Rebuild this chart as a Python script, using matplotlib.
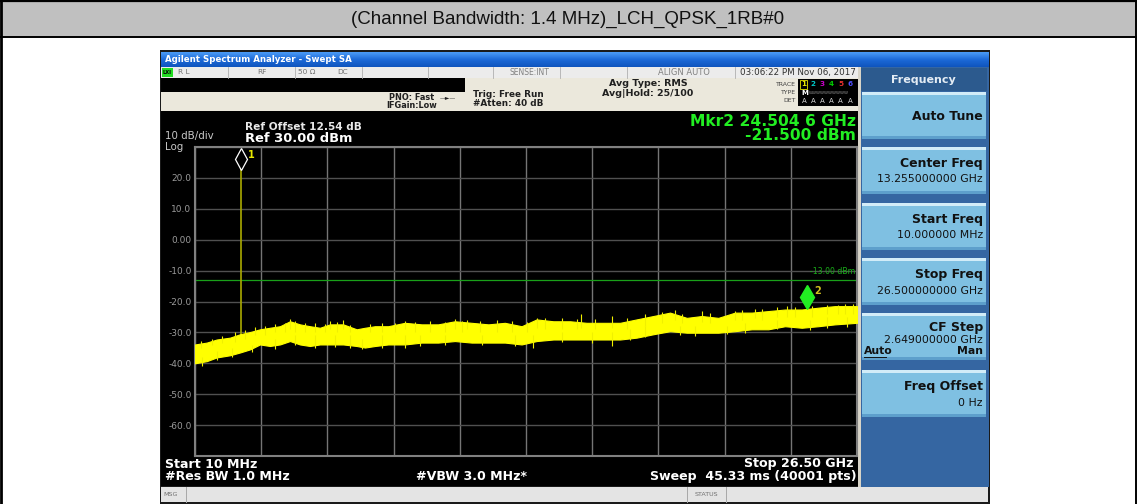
import matplotlib.pyplot as plt
import numpy as np
from matplotlib.patches import Rectangle
from matplotlib.colors import LinearSegmentedColormap
from matplotlib import font_manager, transforms

plt.rcParams['font.family'] = ['DejaVu Sans']

title = "(Channel Bandwidth: 1.4 MHz)_LCH_QPSK_1RB#0"

# noise band of the trace (GHz / dBm)
freq = [0.01, 0.48, 0.88, 1.41, 1.81, 2.21, 2.61, 3.01, 3.41, 3.81, 4.21, 4.61,
        5.01, 5.41, 5.94, 6.48, 6.81, 7.21, 7.74, 8.41, 9.08, 9.74, 10.41, 11.08,
        11.75, 12.41, 13.08, 13.68, 14.35, 15.02, 15.68, 16.35, 17.02, 17.68,
        18.35, 19.02, 19.69, 20.29, 20.95, 21.62, 22.29, 22.95, 23.62, 24.29,
        24.95, 25.62, 26.50]
upper = [-33.9, -33.3, -32.3, -31.7, -30.6, -29.9, -29.0, -28.5, -28.0, -26.4,
         -27.4, -28.0, -28.5, -27.4, -27.4, -29.0, -28.5, -28.0, -28.0, -26.9,
         -27.4, -27.4, -26.4, -26.9, -27.4, -26.9, -28.0, -25.8, -26.4, -26.4,
         -26.9, -26.9, -26.9, -25.8, -24.7, -23.6, -25.3, -24.7, -25.3, -23.6,
         -23.6, -23.1, -22.6, -22.6, -22.0, -21.5, -21.5]
lower = [-40.0, -39.3, -38.1, -37.4, -36.5, -35.5, -33.9, -34.4, -33.9, -32.8,
         -33.9, -34.4, -33.9, -33.9, -33.9, -34.4, -34.9, -34.4, -33.9, -33.9,
         -33.3, -33.3, -32.8, -33.3, -33.3, -33.3, -33.9, -32.8, -32.3, -32.3,
         -32.3, -32.3, -32.3, -31.7, -30.6, -29.6, -30.1, -30.1, -30.1, -29.6,
         -29.0, -29.0, -28.0, -28.5, -28.0, -27.4, -26.9]

# noise spikes sticking out of the band (GHz, from dBm, to dBm)
spike_freq = [3.81, 5.41, 5.94, 8.41, 10.41, 10.88, 13.68, 15.45, 16.68, 19.22,
              20.29, 21.62, 22.42, 23.70, 25.74, 6.68, 8.41, 13.54, 16.68, 21.29,
              0.25, 0.70, 1.10, 1.60, 2.00, 2.40, 2.80, 3.20, 3.60, 4.00, 4.40,
              4.80, 5.20, 5.70, 6.20, 7.00, 7.50, 8.00, 8.80, 9.40, 10.00, 10.70,
              11.40, 12.10, 12.70, 13.30, 14.00, 14.70, 15.30, 16.00, 17.30, 18.00,
              18.70, 19.50, 20.60, 21.90, 22.70, 23.30, 24.00, 24.70, 25.30, 26.00,
              26.35,
              0.30, 0.90, 1.50, 2.30, 3.20, 4.00, 4.80, 5.60, 6.20, 7.50, 9.00,
              10.00, 11.50, 12.80, 14.70, 15.90, 17.40, 18.00, 19.40, 20.00, 22.00,
              23.30, 24.60, 25.30, 26.10]
spike_from = [-29.0, -29.0, -29.0, -29.0, -29.0, -29.0, -28.5, -28.5, -28.5, -26.0,
              -26.5, -26.0, -25.5, -25.0, -24.0, -32.0, -31.0, -31.0, -30.0, -28.0,
              -35.0, -34.0, -33.5, -33.0, -32.0, -31.0, -31.0, -30.0, -30.0, -30.0,
              -30.0, -30.0, -30.0, -30.0, -30.0, -30.0, -30.0, -30.0, -30.0, -30.0,
              -30.0, -30.0, -30.0, -30.0, -30.0, -30.0, -29.0, -29.0, -29.0, -29.0,
              -29.0, -28.0, -27.0, -27.0, -27.0, -26.0, -26.0, -25.0, -25.0, -25.0,
              -24.0, -24.0, -24.0,
              -38.0, -36.0, -35.0, -34.0, -32.0, -31.0, -31.0, -31.0, -31.0, -31.0,
              -31.0, -31.0, -31.0, -31.0, -30.0, -30.0, -29.0, -28.0, -28.0, -28.0,
              -27.0, -26.0, -26.0, -25.0, -25.0]
spike_to = [-25.8, -26.2, -26.0, -26.3, -25.8, -26.0, -25.2, -24.2, -24.7, -22.9,
            -23.1, -23.0, -22.4, -21.5, -21.0, -35.5, -34.9, -34.9, -34.4, -30.6,
            -32.8, -32.0, -31.2, -30.0, -29.2, -28.4, -27.8, -27.2, -26.8, -26.3,
            -26.9, -27.0, -27.2, -26.6, -27.6, -27.3, -26.9, -26.8, -26.5, -26.2,
            -26.5, -26.2, -26.3, -26.0, -26.2, -26.6, -25.3, -25.5, -25.6, -25.8,
            -25.3, -24.2, -23.4, -24.0, -23.8, -22.6, -22.3, -21.9, -21.8, -21.4,
            -21.0, -20.8, -20.9,
            -40.8, -39.0, -38.0, -36.4, -35.3, -34.2, -35.0, -34.6, -35.2, -35.0,
            -34.3, -34.0, -34.2, -34.5, -33.2, -33.3, -32.6, -31.5, -31.0, -31.3,
            -30.2, -29.0, -29.2, -28.6, -28.2]

mkr1_freq = 1.84
mkr1_level = 24.8
mkr2_freq = 24.5046
mkr2_level = -21.5
limit_level = -13.0

start_ghz = 0.01
stop_ghz = 26.5
ref_level = 30
db_div = 10
y_ticks = list(range(-70, 31, 10))
y_labels = ["", "-60.0", "-50.0", "-40.0", "-30.0", "-20.0", "-10.0", "0.00", "10.0", "20.0", ""]

softkeys = [("Auto Tune", ""), ("Center Freq", "13.255000000 GHz"),
            ("Start Freq", "10.000000 MHz"), ("Stop Freq", "26.500000000 GHz"),
            ("CF Step", "2.649000000 GHz"), ("Freq Offset", "0 Hz")]
key_top = [92, 147, 203, 258, 313, 370]

W, H = 1137, 504
fig = plt.figure(figsize=(W / 100, H / 100), dpi=100)
fig.patch.set_facecolor('white')
ui = fig.add_axes([0, 0, 1, 1])
ui.axis('off')


def box(x0, y0, x1, y1, color, **kw):
    ui.add_patch(Rectangle((x0, y0), x1 - x0, y1 - y0, facecolor=color,
                           edgecolor='none', lw=0, **kw))


def txt(x, y, s, size=6, color='white', weight='normal', ha='left', **kw):
    ui.text(x, y, s, fontsize=size, color=color, fontweight=weight, ha=ha,
            va='center', **kw)


# table cell with the title
box(0, 0, W, 37, '#c0c0c0')
ui.plot([0, W], [0.8, 0.8], color='black', lw=1.6)
ui.plot([0, W], [36.5, 36.5], color='black', lw=1.4)
ui.plot([1, 1], [0, H], color='black', lw=2)
ui.plot([W - 1.5, W - 1.5], [0, H], color='black', lw=1.4)
installed = {f.name for f in font_manager.fontManager.ttflist}
if 'Liberation Sans Narrow' in installed:
    ui.text(568, 19.5, title, fontsize=16, color='#111111', ha='center', va='center',
            family='Liberation Sans Narrow')
else:
    ui.text(568, 19.5, title, fontsize=13.5, color='#111111', ha='center', va='center',
            family='Liberation Sans')

# analyzer window
box(160, 50, 990, H, '#1a1a1a')
grad = LinearSegmentedColormap.from_list('bar', ['#4a9af5', '#1d6ad8', '#0f55bf'])
ui.imshow(np.linspace(0, 1, 20).reshape(-1, 1), cmap=grad, aspect='auto',
          extent=[161, 989, 67, 52], zorder=1)
txt(165, 59.5, "Agilent Spectrum Analyzer - Swept SA", 6.2, 'white', 'bold', zorder=2)

# status row
box(161, 67, 858, 77.5, '#ececec')
for xd in [228, 295, 362, 428, 493, 560, 627, 735]:
    ui.plot([xd, xd], [67, 77.5], color='#b0b0b0', lw=0.6)
box(161.5, 68, 173, 76.5, '#22dd22')
txt(162.2, 72.3, "LXI", 3.6, 'black', 'bold')
for x, s in [(178, "R L"), (257, "RF"), (298, "50 Ω"), (337, "DC")]:
    txt(x, 72.3, s, 5.3, '#707070')
txt(549, 72.3, "SENSE:INT", 5.5, '#808080', ha='right')
txt(684, 72.3, "ALIGN AUTO", 6, '#808080', ha='center')
txt(856, 72.3, "03:06:22 PM Nov 06, 2017", 6.3, '#303030', ha='right')

# settings panel
box(161, 77.5, 465, 92, 'black')
box(161, 92, 858, 111, '#ebe8dc')
box(465, 77.5, 858, 92, '#ebe8dc')
txt(434, 98, "PNO: Fast", 5.9, '#202020', 'bold', ha='right')
txt(440, 97.5, "\u2014\u25ba\u2014", 4.2, '#202020')
txt(437, 106, "IFGain:Low", 5.9, '#202020', 'bold', ha='right')
txt(473, 94.3, "Trig: Free Run", 6.4, '#202020', 'bold')
txt(473, 103.5, "#Atten: 40 dB", 6.4, '#202020', 'bold')
txt(648, 84, "Avg Type: RMS", 6.8, '#202020', 'bold', ha='center')
txt(648, 93, "Avg|Hold: 25/100", 6.8, '#202020', 'bold', ha='center')
for yy, s in [(84.3, "TRACE"), (92.7, "TYPE"), (100.7, "DET")]:
    txt(796, yy, s, 4.4, '#404040', ha='right')
box(798, 79, 858, 105.5, 'black')
trace_cols = ['#e8e800', '#00c8c8', '#c800c8', '#00c800', '#e83030', '#5050ff']
for i, c in enumerate(trace_cols):
    txt(801.5 + 9.2 * i, 84.3, str(i + 1), 5.2, c, 'bold')
ui.add_patch(Rectangle((799.5, 80), 7.5, 8.5, fill=False, ec='#e8e800', lw=0.6))
txt(801, 92.7, "M", 5, 'white', 'bold')
txt(808.5, 92.5, "WWWWWWWWWW", 2.9, '#909090')
for i in range(6):
    txt(801.5 + 9.2 * i, 100.9, "A", 5, '#d8d8d8')

# black display
box(161, 111, 858, 486, 'black')
txt(165, 136.5, "10 dB/div", 7.4, '#c8c8c8')
txt(165, 147.5, "Log", 7.4, '#c8c8c8')
txt(245, 127, "Ref Offset 12.54 dB", 7.6, '#e8e8e8', 'bold')
txt(245, 138.5, "Ref 30.00 dBm", 9.4, 'white', 'bold')
txt(856, 121, "Mkr2 24.504 6 GHz", 11.2, '#22ee22', 'bold', ha='right')
txt(856, 135.5, "-21.500 dBm", 11.2, '#22ee22', 'bold', ha='right')
txt(165, 464, "Start 10 MHz", 9.1, 'white', 'bold')
txt(165, 476.5, "#Res BW 1.0 MHz", 9.1, 'white', 'bold')
txt(416, 476.5, "#VBW 3.0 MHz*", 9.1, 'white', 'bold')
txt(853, 464, "Stop 26.50 GHz", 9.1, 'white', 'bold', ha='right')
txt(857, 476.5, "Sweep  45.33 ms (40001 pts)", 9.1, 'white', 'bold', ha='right')

# message bar
box(161, 486.5, 988, 502, '#e4e4e4')
for xd in [186, 687, 726]:
    ui.plot([xd, xd], [486.5, 502], color='#a8a8a8', lw=0.7)
txt(163, 494.5, "MSG", 4.6, '#707070')
txt(706.5, 494.5, "STATUS", 4.6, '#707070', ha='center')

# softkey panel
box(858, 67, 861, 486.5, '#d8d4c8')
box(861, 67, 989, 486.5, '#3566a2')
box(861, 68, 987, 91, '#2c5a8e')
txt(923, 80, "Frequency", 8, '#e4ecf4', 'bold', ha='center')
for top, (name, value) in zip(key_top, softkeys):
    box(862, top, 986, top + 47, '#7fc0e2')
    box(862, top, 986, top + 3, '#d2ecf8')
    box(862, top + 44, 986, top + 47, '#5d9fcc')
    if name == "CF Step":
        txt(983, top + 14, name, 9, '#111111', 'bold', ha='right')
        txt(983, top + 27, value, 7.8, '#111111', ha='right')
        txt(864, top + 38, "Auto", 7.8, '#111111', 'bold')
        ui.plot([864, 886], [top + 43.5, top + 43.5], color='#111111', lw=0.7)
        txt(983, top + 38, "Man", 7.8, '#111111', 'bold', ha='right')
    elif value:
        txt(983, top + 16.5, name, 9, '#111111', 'bold', ha='right')
        txt(983, top + 32.5, value, 7.8, '#111111', ha='right')
    else:
        txt(983, top + 24, name, 9, '#111111', 'bold', ha='right')

ui.set_xlim(0, W)
ui.set_ylim(H, 0)

# spectrum trace
ax = fig.add_axes([195 / W, (H - 456) / H, 662 / W, 309 / H])
ax.set_facecolor('black')
ax.set_xlim(start_ghz, stop_ghz)
ax.set_ylim(ref_level - 10 * db_div, ref_level)
ax.set_xticks(np.linspace(start_ghz, stop_ghz, 11))
ax.set_yticks(y_ticks)
ax.set_yticklabels(y_labels)
ax.tick_params(length=0, labelbottom=False, labelcolor='#9a9a9a', labelsize=6.5, pad=2.5)
ax.xaxis.grid(True, color='#757575', lw=1)
ax.yaxis.grid(True, color='#505050', lw=1)
ax.set_axisbelow(True)
for sp in ax.spines.values():
    sp.set_color('#808080')
    sp.set_linewidth(1.5)

ax.axhline(limit_level, color='#19a019', lw=0.9, zorder=2)
ax.text(0.997, (limit_level - ref_level + 100) / 100 + 0.012, "-13.00 dBm",
        transform=ax.transAxes, ha='right', va='bottom', fontsize=5.6, color='#19b019')

ax.vlines(mkr1_freq, -31.5, mkr1_level, color='#aaaa00', lw=1.2, zorder=3)
ax.fill_between(freq, lower, upper, color='#ffff00', lw=0.8, edgecolor='#ffff00', zorder=4)
ax.vlines(spike_freq, spike_from, spike_to, color='#f0f000', lw=0.8, zorder=4)

up4 = ax.transData + transforms.ScaledTranslation(0, 4 / 100, fig.dpi_scale_trans)
up9 = ax.transData + transforms.ScaledTranslation(0, 9 / 100, fig.dpi_scale_trans)
ax.plot([mkr1_freq], [mkr1_level], marker='d', ms=11, mfc='black', mec='white', mew=0.9,
        zorder=6, transform=up4)
ax.annotate("1", (mkr1_freq, mkr1_level), xytext=(7, 8), textcoords='offset pixels',
            fontsize=7, color='#e8e800', fontweight='bold', va='center')
ax.plot([mkr2_freq, mkr2_freq], [mkr2_level, mkr2_level + 2], color='#22dd22', lw=1, zorder=6)
ax.plot([mkr2_freq], [mkr2_level], marker='d', ms=12, mfc='#22ee22', mec='#22ee22',
        zorder=6, transform=up9)
ax.annotate("2", (mkr2_freq, mkr2_level), xytext=(7, 15), textcoords='offset pixels',
            fontsize=7, color='#d0c020', fontweight='bold', va='center')

fig.savefig("out.png", dpi=100, facecolor='white')
